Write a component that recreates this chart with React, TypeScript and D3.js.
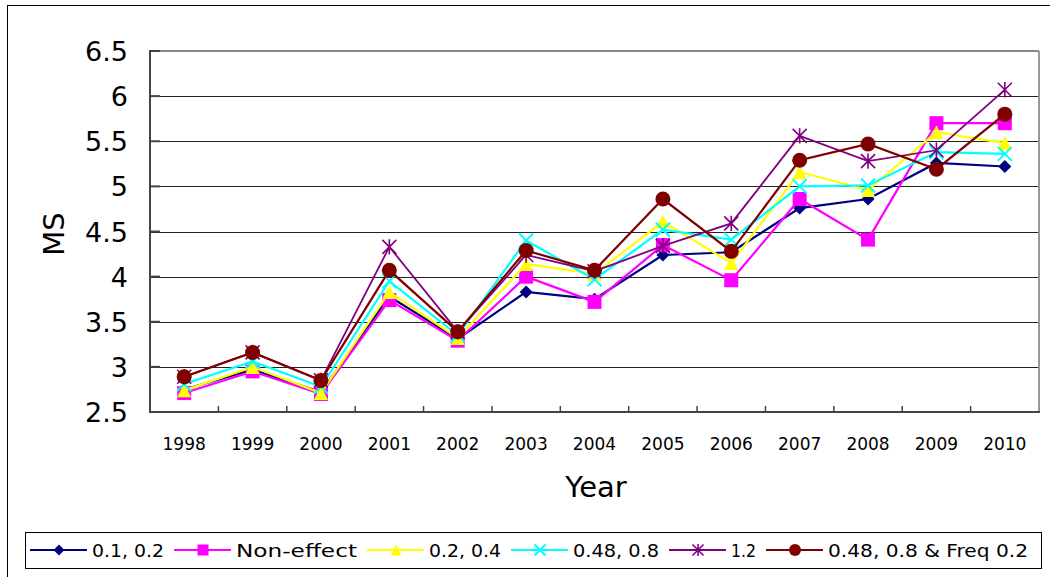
import React from "react";
import * as d3 from "d3";

const years = ["1998", "1999", "2000", "2001", "2002", "2003", "2004", "2005", "2006", "2007", "2008", "2009", "2010"];
const yTicks = [2.5, 3, 3.5, 4, 4.5, 5, 5.5, 6, 6.5];

const s01_02 = [2.75, 2.97, 2.72, 3.78, 3.31, 3.83, 3.75, 4.24, 4.27, 4.76, 4.86, 5.26, 5.22];
const nonEffect = [2.71, 2.95, 2.70, 3.74, 3.29, 4.00, 3.72, 4.35, 3.96, 4.86, 4.41, 5.70, 5.70];
const s02_04 = [2.74, 3.00, 2.71, 3.83, 3.32, 4.14, 4.03, 4.61, 4.15, 5.16, 4.96, 5.60, 5.48];
const s048_08 = [2.81, 3.06, 2.78, 3.95, 3.35, 4.40, 3.97, 4.52, 4.41, 5.00, 5.01, 5.38, 5.36];
const s12 = [2.89, 3.16, 2.85, 4.33, 3.39, 4.24, 4.06, 4.34, 4.59, 5.56, 5.28, 5.40, 6.07];
const sFreq = [2.89, 3.16, 2.85, 4.07, 3.39, 4.29, 4.07, 4.86, 4.28, 5.29, 5.47, 5.19, 5.80];

const seriesNames = ["0.1, 0.2", "Non-effect", "0.2, 0.4", "0.48, 0.8", "1.2", "0.48, 0.8 & Freq 0.2"];
const seriesColors = ["#000080", "#ff00ff", "#ffff00", "#00ffff", "#800080", "#800000"];
const seriesMarkers = ["diamond", "square", "triangle", "x", "star", "circle"];
const seriesValues = [s01_02, nonEffect, s02_04, s048_08, s12, sFreq];
const legendTextWidths = [72, 121, 72, 86, 25, 200];

const FONT = "'DejaVu Sans', sans-serif";

function Marker({ type, x, y, color, s }: { type: string; x: number; y: number; color: string; s: number }) {
  const t = `translate(${x},${y})`;
  if (type === "diamond") {
    return <path transform={t} d={`M0,${-s}L${s},0L0,${s}L${-s},0Z`} fill={color} />;
  }
  if (type === "square") {
    return <rect x={x - s} y={y - s} width={2 * s} height={2 * s} fill={color} />;
  }
  if (type === "triangle") {
    return <path transform={t} d={`M0,${-s}L${s},${s}L${-s},${s}Z`} fill={color} />;
  }
  if (type === "x") {
    return (
      <path transform={t} d={`M${-s},${-s}L${s},${s}M${-s},${s}L${s},${-s}`} stroke={color} strokeWidth={2} fill="none" />
    );
  }
  if (type === "star") {
    return (
      <path
        transform={t}
        d={`M${-s},${-s}L${s},${s}M${-s},${s}L${s},${-s}M0,${-s * 1.1}L0,${s * 1.1}`}
        stroke={color}
        strokeWidth={1.6}
        fill="none"
      />
    );
  }
  return <circle cx={x} cy={y} r={s + 0.5} fill={color} />;
}

export default function App() {
  const W = 1050;
  const H = 577;
  const left = 150;
  const right = 1039;
  const top = 51;
  const bottom = 412;

  const x = d3.scaleBand<string>().domain(years).range([left, right]).padding(0);
  const bw = x.bandwidth();
  const cx = (yr: string) => (x(yr) as number) + bw / 2;
  const y = d3.scaleLinear().domain([2.5, 6.5]).range([bottom, top]);

  const line = d3
    .line<number>()
    .x((_, i) => cx(years[i]))
    .y((d) => y(d));

  // legend layout
  const legendItems: { lineX: number; textX: number; w: number }[] = [];
  let cursor = 30;
  legendTextWidths.forEach((w) => {
    legendItems.push({ lineX: cursor, textX: cursor + 62, w });
    cursor = cursor + 62 + w + 10;
  });
  const legendY = 550;

  return (
    <svg width={W} height={H} style={{ position: "absolute", left: 0, top: 0, background: "#fff" }}>
      <rect x={0} y={0} width={W} height={H} fill="#fff" />
      <rect x={7.5} y={5.5} width={1060} height={600} fill="none" stroke="#000" strokeWidth={1} />

      {/* gridlines */}
      {yTicks.map((t) => (
        <line key={t} x1={left} x2={right} y1={Math.round(y(t)) + 0.5} y2={Math.round(y(t)) + 0.5} stroke="#222" strokeWidth={1} />
      ))}
      {/* plot border */}
      <line x1={left} x2={right} y1={top} y2={top} stroke="#888" strokeWidth={2} />
      <line x1={right} x2={right} y1={top} y2={bottom} stroke="#999" strokeWidth={2} />
      <line x1={left} x2={left} y1={top - 1} y2={bottom + 1} stroke="#444" strokeWidth={2} />
      <line x1={left} x2={right + 1} y1={bottom} y2={bottom} stroke="#444" strokeWidth={2} />
      {/* y ticks */}
      {yTicks.map((t) => (
        <line key={"yt" + t} x1={left} x2={left + 10} y1={y(t)} y2={y(t)} stroke="#444" strokeWidth={2} />
      ))}
      {/* x ticks */}
      {years.slice(1).map((yr) => (
        <line key={"xt" + yr} x1={x(yr) as number} x2={x(yr) as number} y1={bottom} y2={bottom - 6} stroke="#444" strokeWidth={1.5} />
      ))}

      {/* y labels */}
      {yTicks.map((t) => (
        <text key={"yl" + t} x={128} y={y(t) + 10} textAnchor="end" fontFamily={FONT} fontSize={27} fill="#000">
          {String(t)}
        </text>
      ))}
      {/* x labels */}
      {years.map((yr) => (
        <text key={"xl" + yr} x={cx(yr)} y={450} textAnchor="middle" fontFamily={FONT} fontSize={17} fill="#000">
          {yr}
        </text>
      ))}

      <text x={596} y={497} textAnchor="middle" fontFamily={FONT} fontSize={29} fill="#000">
        Year
      </text>
      <text transform="translate(64,234) rotate(-90)" textAnchor="middle" fontFamily={FONT} fontSize={29} fill="#000">
        MS
      </text>

      {/* series */}
      {seriesValues.map((vals, si) => (
        <g key={"s" + si}>
          <path d={line(vals) || ""} fill="none" stroke={seriesColors[si]} strokeWidth={si === 4 ? 1.8 : 2.2} />
          {vals.map((v, i) => (
            <Marker key={i} type={seriesMarkers[si]} x={cx(years[i])} y={y(v)} color={seriesColors[si]} s={si === 0 ? 6.5 : 7} />
          ))}
        </g>
      ))}

      {/* legend */}
      <rect x={25.5} y={532.5} width={1016} height={36} fill="#fff" stroke="#000" strokeWidth={1} />
      {legendItems.map((it, i) => (
        <g key={"lg" + i}>
          <line x1={it.lineX} x2={it.lineX + 57} y1={legendY} y2={legendY} stroke={seriesColors[i]} strokeWidth={2} />
          <Marker type={seriesMarkers[i]} x={it.lineX + 29} y={legendY} color={seriesColors[i]} s={5.5} />
          <text
            x={it.textX}
            y={legendY + 7}
            fontFamily={FONT}
            fontSize={18}
            textLength={it.w}
            lengthAdjust="spacingAndGlyphs"
            fill="#000"
          >
            {seriesNames[i]}
          </text>
        </g>
      ))}
    </svg>
  );
}
